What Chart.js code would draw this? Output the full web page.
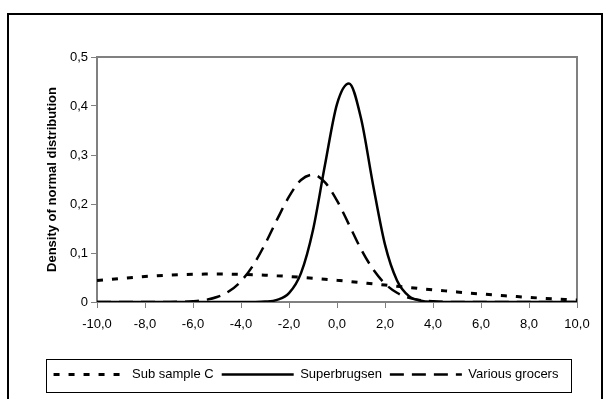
<!DOCTYPE html>
<html>
<head>
<meta charset="utf-8">
<title>Density of normal distribution</title>
<script src="https://cdn.jsdelivr.net/npm/chart.js@4.4.1/dist/chart.umd.min.js"></script>
<style>
    html, body { margin: 0; padding: 0; background: #fff; }
    canvas { display: block; }
</style>
</head>
<body>
<canvas id="density-chart" width="606" height="399"></canvas>
<script>
// Valores (paso de 0,5 en el eje x)
const xValues = [
    -10, -9.5, -9, -8.5, -8, -7.5, -7, -6.5, -6, -5.5, -5, -4.5, -4, -3.5, -3, -2.5, -2, -1.5, -1, -0.5,
    0, 0.5, 1, 1.5, 2, 2.5, 3, 3.5, 4, 4.5, 5, 5.5, 6, 6.5, 7, 7.5, 8, 8.5, 9, 9.5, 10
];

const subSampleC = [
    0.044, 0.046, 0.048, 0.050, 0.052, 0.0535, 0.0547, 0.0557, 0.0564, 0.0569, 0.057, 0.0569, 0.0564, 0.0557, 0.0547, 0.0535, 0.052, 0.0503, 0.0484, 0.0464,
    0.0442, 0.0419, 0.0395, 0.037, 0.0346, 0.0321, 0.0297, 0.0273, 0.0249, 0.0227, 0.0205, 0.0184, 0.0164, 0.0145, 0.0127, 0.011, 0.0094, 0.0079, 0.0065, 0.0052, 0.004
];

const superbrugsen = [
    0, 0, 0, 0, 0, 0, 0, 0, 0, 0, 0, 0, 0, 0.0001, 0.0008, 0.0042, 0.018, 0.059, 0.147, 0.280,
    0.404, 0.446, 0.375, 0.240, 0.117, 0.044, 0.012, 0.0027, 0.0004, 0, 0, 0, 0, 0, 0, 0, 0, 0, 0, 0, 0
];

const variousGrocers = [
    0, 0, 0, 0, 0, 0, 0.0001, 0.0005, 0.0016, 0.0042, 0.0101, 0.0218, 0.0424, 0.0745, 0.118, 0.168, 0.215, 0.249, 0.260, 0.244,
    0.207, 0.158, 0.108, 0.067, 0.0374, 0.0188, 0.0085, 0.0035, 0.0013, 0.0004, 0.0001, 0, 0, 0, 0, 0, 0, 0, 0, 0, 0
];

const seriesNames = ['Sub sample C', 'Superbrugsen', 'Various grocers'];
const yTitle = 'Density of normal distribution';

const FONT = '"Liberation Sans", Arial, sans-serif';

function toPoints(values) {
    return xValues.map((x, i) => ({ x: x, y: values[i] }));
}

// Formato con coma decimal
function commaDecimal(v) {
    return v.toFixed(1).replace('.', ',');
}

// Marco exterior, borde del area de trazado y caja de la leyenda
const framePlugin = {
    id: 'frame',
    beforeDraw(chart) {
        const ctx = chart.ctx;
        ctx.save();
        ctx.fillStyle = '#fff';
        ctx.fillRect(0, 0, chart.width, chart.height);
        ctx.strokeStyle = '#000';
        ctx.lineWidth = 2;
        ctx.strokeRect(8, 14, 594, 400);
        ctx.restore();
    },
    beforeDatasetsDraw(chart) {
        const a = chart.chartArea;
        const ctx = chart.ctx;
        ctx.save();
        ctx.strokeStyle = '#808080';
        ctx.lineWidth = 2;
        ctx.strokeRect(a.left, a.top, a.right - a.left, a.bottom - a.top);
        ctx.restore();
    },
    afterDraw(chart) {
        const boxes = chart.legend && chart.legend.legendHitBoxes;
        if (!boxes || boxes.length === 0) return;
        const first = boxes[0];
        const last = boxes[boxes.length - 1];
        const midY = first.top + first.height / 2;
        const ctx = chart.ctx;
        ctx.save();
        ctx.strokeStyle = '#000';
        ctx.lineWidth = 1;
        ctx.strokeRect(Math.round(first.left - 8) + 0.5, Math.round(midY - 16) + 0.5,
            Math.round(last.left + last.width + 12 - (first.left - 8)), 33);
        ctx.restore();
    }
};

const ctx = document.getElementById('density-chart').getContext('2d');

new Chart(ctx, {
    type: 'line',
    data: {
        datasets: [
            {
                label: seriesNames[0],
                data: toPoints(subSampleC),
                borderColor: '#000',
                backgroundColor: 'transparent',
                borderWidth: 3,
                borderDash: [6, 9],
                pointRadius: 0,
                cubicInterpolationMode: 'monotone'
            },
            {
                label: seriesNames[1],
                data: toPoints(superbrugsen),
                borderColor: '#000',
                backgroundColor: 'transparent',
                borderWidth: 2.5,
                pointRadius: 0,
                cubicInterpolationMode: 'monotone'
            },
            {
                label: seriesNames[2],
                data: toPoints(variousGrocers),
                borderColor: '#000',
                backgroundColor: 'transparent',
                borderWidth: 2.5,
                borderDash: [14, 8],
                pointRadius: 0,
                cubicInterpolationMode: 'monotone'
            }
        ]
    },
    options: {
        responsive: false,
        animation: false,
        devicePixelRatio: 1,
        layout: {
            padding: { left: 6, right: 0, top: 57, bottom: 8 }
        },
        plugins: {
            tooltip: { enabled: false },
            legend: {
                position: 'bottom',
                labels: {
                    color: '#000',
                    font: { family: FONT, size: 13 },
                    usePointStyle: true,
                    pointStyle: 'line',
                    pointStyleWidth: 72,
                    boxHeight: 13,
                    padding: 8,
                    // el estilo de punto no trae el trazo discontinuo, se copia del dataset
                    generateLabels: chart => {
                        const items = Chart.defaults.plugins.legend.labels.generateLabels(chart);
                        items.forEach(item => {
                            const ds = chart.data.datasets[item.datasetIndex];
                            item.lineDash = ds.borderDash || [];
                            item.lineWidth = ds.borderWidth;
                            item.strokeStyle = ds.borderColor;
                        });
                        return items;
                    }
                }
            }
        },
        scales: {
            x: {
                type: 'linear',
                min: -10,
                max: 10,
                border: { display: false },
                grid: {
                    drawOnChartArea: false,
                    drawTicks: true,
                    tickLength: 6,
                    color: '#808080',
                    lineWidth: 1
                },
                ticks: {
                    stepSize: 2,
                    color: '#000',
                    padding: 9,
                    maxRotation: 0,
                    font: { family: FONT, size: 13 },
                    callback: v => commaDecimal(v)
                },
                afterFit: scale => { scale.height = 58; }
            },
            y: {
                min: 0,
                max: 0.5,
                border: { display: false },
                grid: {
                    drawOnChartArea: false,
                    drawTicks: true,
                    tickLength: 6,
                    color: '#808080',
                    lineWidth: 1
                },
                ticks: {
                    stepSize: 0.1,
                    color: '#000',
                    padding: 3,
                    font: { family: FONT, size: 13 },
                    callback: v => (v === 0 ? '0' : commaDecimal(v))
                },
                title: {
                    display: true,
                    text: yTitle,
                    color: '#000',
                    font: { family: FONT, size: 13, weight: 'bold' },
                    padding: { top: 39, bottom: 0 }
                },
                afterFit: scale => { scale.width = 91; }
            },
            // eje vacio a la derecha, solo para reservar margen
            y2: {
                position: 'right',
                min: 0,
                max: 1,
                border: { display: false },
                grid: { display: false },
                ticks: { display: false },
                afterFit: scale => { scale.width = 29; }
            }
        }
    },
    plugins: [framePlugin]
});
</script>
</body>
</html>
